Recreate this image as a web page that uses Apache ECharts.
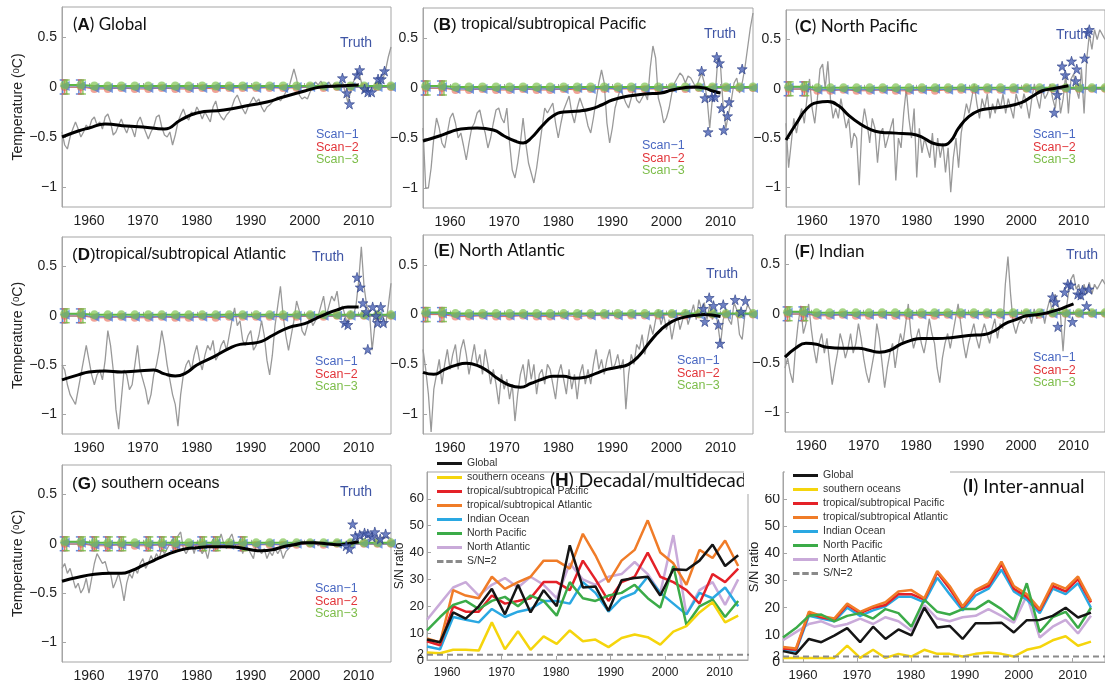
<!DOCTYPE html>
<html>
<head>
<meta charset="utf-8">
<script src="https://cdn.jsdelivr.net/npm/echarts@6/dist/echarts.min.js"></script>
<style>
  html, body { margin: 0; padding: 0; background: #fff; }
  #chart { width: 1105px; height: 684px; }
</style>
</head>
<body>
<div id="chart"></div>
<script>
// ---------- temperature panels (A-G) ----------
// grey series: one value every half year, 1955.0 .. 2016.0
const halfYears = Array.from({ length: 123 }, (_, i) => 1955 + i * 0.5);

const greyA = [-0.45,-0.58,-0.62,-0.5,-0.42,-0.35,-0.42,-0.5,-0.45,-0.38,
  -0.42,-0.33,-0.3,-0.38,-0.35,-0.42,-0.3,-0.27,-0.35,-0.48,
  -0.45,-0.38,-0.32,-0.4,-0.46,-0.38,-0.42,-0.5,-0.35,-0.3,
  -0.38,-0.45,-0.52,-0.45,-0.4,-0.3,-0.28,-0.4,-0.48,-0.5,
  -0.45,-0.58,-0.48,-0.35,-0.28,-0.22,-0.3,-0.33,-0.25,-0.28,
  -0.2,-0.25,-0.32,-0.25,-0.3,-0.35,-0.2,-0.14,-0.25,-0.3,
  -0.33,-0.28,-0.25,-0.2,-0.12,-0.08,-0.15,-0.22,-0.27,-0.2,
  -0.15,-0.1,-0.15,-0.12,-0.2,-0.25,-0.2,-0.18,-0.15,-0.12,
  -0.1,-0.14,-0.1,-0.05,-0.02,0.08,0.18,0.08,-0.08,-0.12,
  -0.1,-0.12,-0.05,0,0.05,0.02,0.06,0,0.02,0.05,
  0,0.04,0.02,0,0.05,-0.05,-0.15,-0.05,0.05,0.1,
  0.15,0.05,-0.05,0,-0.05,0,-0.03,0.05,0.06,0.08,
  0.17,0.3,0.4];
const greyB = [-0.4,-1.0,-1.0,-0.8,-0.5,-0.3,-0.4,-0.55,-0.6,-0.45,
  -0.3,-0.25,-0.35,-0.5,-0.45,-0.58,-0.72,-0.55,-0.4,-0.35,
  -0.25,-0.22,-0.35,-0.45,-0.6,-0.5,-0.35,-0.22,-0.2,-0.3,
  -0.35,-0.2,-0.55,-0.82,-0.9,-0.75,-0.55,-0.3,-0.55,-0.75,
  -0.85,-0.95,-0.8,-0.6,-0.4,-0.2,-0.25,-0.2,-0.15,-0.35,
  -0.5,-0.35,-0.22,-0.15,-0.08,-0.25,-0.35,-0.2,-0.1,-0.18,
  -0.25,-0.38,-0.45,-0.3,-0.12,0.05,0.18,0.05,-0.35,-0.55,
  -0.4,-0.2,-0.1,0,-0.08,-0.15,-0.2,-0.1,0,-0.12,
  -0.15,-0.1,-0.05,-0.12,0.2,0.42,0.3,-0.1,-0.2,-0.35,
  -0.3,-0.2,-0.05,0.05,0.1,0.15,0.12,0.05,0.12,0.1,
  0.05,0,0.08,0.15,0.05,-0.1,-0.4,-0.1,-0.08,0.3,
  0.22,-0.2,-0.4,-0.25,-0.12,0.05,0.1,-0.05,0.05,0.2,
  0.4,0.6,0.75];
const greyC = [-0.35,-0.8,-0.55,-0.3,-0.45,-0.3,-0.2,-0.35,-0.1,0.1,
  -0.2,-0.35,-0.1,0.2,0.25,0,0.28,-0.1,-0.3,-0.2,
  -0.3,-0.1,-0.25,-0.4,-0.3,-0.6,-0.45,-0.5,-0.98,-0.4,
  -0.2,-0.35,-0.55,-0.3,-0.4,-0.75,-0.45,-0.4,-0.6,-0.5,
  -0.4,-0.3,-0.93,-0.5,-0.6,-0.25,0,-0.3,-0.5,-0.2,
  -0.9,-0.4,-0.65,-0.5,-0.6,-0.7,-0.45,-0.8,-0.5,-0.7,
  -0.55,-0.85,-0.6,-1.05,-0.7,-0.5,-0.8,-0.45,-0.3,-0.15,
  -0.25,-0.1,0.05,-0.15,-0.3,-0.1,-0.2,-0.05,-0.3,-0.15,
  -0.25,-0.1,-0.2,-0.05,-0.25,-0.1,-0.2,-0.3,-0.05,-0.15,
  -0.2,-0.05,-0.15,-0.3,-0.1,0.05,-0.1,-0.2,0,-0.1,
  -0.05,0.05,-0.1,-0.2,0.05,-0.25,-0.1,0.15,-0.25,0.1,
  0.15,0,-0.1,0.2,-0.25,0.3,0.55,0.4,0.6,0.5,
  0.6,0.55,0.5];
const greyD = [-0.5,-0.55,-0.7,-0.8,-0.85,-0.9,-0.75,-0.6,-0.45,-0.3,
  -0.45,-0.6,-0.7,-0.6,-0.55,-0.65,-0.45,-0.15,-0.3,-0.55,
  -0.95,-1.15,-0.85,-0.55,-0.6,-0.75,-0.7,-0.5,-0.3,-0.55,
  -0.65,-0.75,-0.9,-0.8,-0.6,-0.5,-0.35,-0.15,-0.3,-0.5,
  -0.65,-0.8,-0.9,-1.12,-0.8,-0.6,-0.5,-0.45,-0.55,-0.4,
  -0.3,-0.45,-0.55,-0.4,-0.3,-0.35,-0.25,-0.45,-0.4,-0.3,
  -0.25,-0.35,-0.2,-0.05,0.08,-0.1,-0.05,-0.25,-0.3,-0.2,
  -0.15,-0.35,-0.3,-0.2,-0.05,-0.2,-0.45,-0.6,-0.4,-0.1,
  0.1,0.3,0,-0.2,-0.35,-0.2,-0.05,0.15,0.05,-0.15,
  -0.2,-0.1,0,-0.1,-0.05,0,0.1,0.2,0,0.1,
  0.2,0.15,0.25,0.05,0.1,0,-0.1,0.05,0,0.1,
  0.35,0.7,0.3,0.1,0.05,-0.35,-0.1,0.05,-0.05,0,
  -0.1,0.1,0.33];
const greyE = [-0.35,-0.55,-0.8,-1.18,-0.75,-0.6,-0.45,-0.7,-0.5,-0.35,
  -0.55,-0.4,-0.3,-0.55,-0.35,-0.25,-0.4,-0.6,-0.45,-0.3,
  -0.5,-0.4,-0.6,-0.35,-0.5,-0.7,-0.55,-0.7,-0.9,-0.6,
  -0.75,-0.65,-0.85,-0.7,-1.07,-0.8,-0.6,-0.5,-0.7,-0.45,
  -0.65,-0.5,-0.8,-0.6,-0.55,-0.7,-0.5,-0.55,-0.7,-0.85,
  -0.6,-0.5,-0.65,-0.8,-0.55,-0.75,-0.6,-0.85,-0.6,-0.5,
  -0.7,-0.55,-0.7,-0.5,-0.35,-0.55,-0.45,-0.6,-0.45,-0.35,
  -0.55,-0.5,-0.4,-0.55,-0.45,-0.95,-0.6,-0.4,-0.5,-0.3,
  -0.35,-0.2,-0.4,-0.25,-0.1,-0.2,-0.05,0.05,-0.1,0,
  -0.15,-0.05,-0.25,-0.1,0,-0.15,-0.05,0.05,-0.1,0,
  0.1,-0.05,0.15,0.05,0.12,-0.05,0.1,-0.05,0.05,-0.1,
  -0.3,-0.05,0.05,-0.05,-0.1,0.12,0.05,-0.2,-0.25,0,
  0.1,0.05,0];
const greyF = [-0.55,-0.45,-0.6,-0.7,-0.35,-0.1,0.08,-0.2,-0.1,0.1,
  -0.15,-0.35,-0.5,-0.3,-0.2,-0.4,-0.25,-0.5,-0.72,-0.55,
  -0.4,-0.2,-0.3,-0.45,-0.35,-0.2,-0.4,-0.3,-0.1,-0.25,
  -0.45,-0.6,-0.7,-0.55,-0.4,-0.1,-0.25,-0.5,-0.75,-0.55,
  -0.4,-0.3,-0.55,-0.35,-0.2,-0.3,-0.1,0.1,-0.2,-0.35,
  -0.25,-0.15,-0.3,-0.4,-0.25,-0.05,-0.2,-0.3,-0.55,-0.7,
  -0.45,-0.3,-0.2,-0.35,-0.2,-0.05,0.1,-0.1,-0.3,-0.45,
  -0.3,-0.2,-0.1,-0.25,-0.35,-0.2,-0.1,-0.2,-0.3,-0.15,
  -0.05,-0.25,-0.1,-0.15,0.3,0.58,0.2,-0.1,-0.2,-0.1,
  -0.05,-0.1,-0.05,0,-0.1,0.05,-0.05,0,0.05,-0.1,
  0.05,0.15,0,0.2,0.1,0,-0.38,0,0.2,0.35,
  0.4,0.25,0.3,0.15,0.3,0.2,0.32,0.2,0.3,0.25,
  0.3,0.35,0.3];
const greyG = [-0.25,-0.2,-0.3,-0.25,-0.35,-0.45,-0.4,-0.5,-0.45,-0.35,
  -0.5,-0.35,-0.2,-0.1,-0.15,-0.2,-0.18,-0.28,-0.3,-0.45,
  -0.38,-0.3,-0.42,-0.58,-0.4,-0.3,-0.35,-0.25,-0.3,-0.2,
  -0.15,-0.25,-0.2,-0.12,-0.18,-0.1,-0.15,-0.05,-0.1,-0.05,
  0,0.05,-0.05,0.08,0.12,-0.05,-0.1,-0.05,0,-0.1,
  0.02,-0.05,-0.1,-0.05,-0.15,-0.02,0.05,-0.05,0.02,0.1,
  0,-0.05,0.05,0.1,0,-0.05,0.05,-0.1,0,-0.05,
  -0.1,-0.15,0,-0.05,-0.1,-0.05,-0.15,-0.08,-0.12,-0.05,
  -0.1,-0.05,-0.15,-0.08,-0.05,-0.02,0,0.02,0,0.03,
  0,0.02,0,0.03,0.02,-0.02,0,0.02,-0.01,0.01,
  0,-0.02,0,0.02,0,-0.01,0.02,-0.03,0,0.03,
  0.05,0.06,0.04,0.03,0.05,0.08,0.04,0.06,0.05,0.07,
  0.06,0.07,0.05];

// smoothed (black) curves
const smoothYearsA = [1955,1958,1960,1963,1967,1970,1974,1977,1980,1985,1990,1993,1996,2000,2003,2006,2010];
const smoothA = [-0.5,-0.44,-0.41,-0.37,-0.39,-0.4,-0.42,-0.33,-0.26,-0.23,-0.18,-0.15,-0.1,-0.04,0,0.01,0.02];
const smoothYearsB = [1955,1958,1960,1962,1965,1968,1970,1972,1973.5,1975,1977,1979,1981,1984,1986,1988,1990,1993,1996,1999,2001,2003,2005,2007,2008.5,2010];
const smoothB = [-0.53,-0.48,-0.44,-0.41,-0.4,-0.42,-0.48,-0.53,-0.55,-0.5,-0.38,-0.28,-0.24,-0.23,-0.21,-0.17,-0.12,-0.08,-0.06,-0.05,-0.02,0,0.01,0,-0.03,-0.05];
const smoothYearsC = [1955,1957,1959,1961,1963,1965,1967,1969,1971,1973,1976,1979,1981,1983,1985,1986.5,1988,1990,1992,1994,1997,2000,2002,2004,2006,2009];
const smoothC = [-0.52,-0.35,-0.2,-0.14,-0.13,-0.17,-0.27,-0.35,-0.41,-0.44,-0.45,-0.46,-0.49,-0.55,-0.57,-0.53,-0.4,-0.28,-0.22,-0.2,-0.18,-0.14,-0.08,-0.02,0,0.03];
const smoothYearsD = [1955,1958,1960,1963,1966,1969,1972,1974,1976,1978,1980,1983,1986,1988,1990,1992,1994,1997,2000,2002,2004,2006,2008,2010];
const smoothD = [-0.65,-0.6,-0.57,-0.56,-0.57,-0.56,-0.55,-0.59,-0.61,-0.58,-0.5,-0.42,-0.33,-0.29,-0.28,-0.26,-0.2,-0.12,-0.08,-0.03,0.02,0.06,0.09,0.09];
const smoothYearsE = [1955,1957,1959,1961,1963,1965,1967,1969,1971,1973,1975,1977,1979,1981,1983,1985,1987,1989,1991,1993,1995,1997,1999,2001,2003,2005,2007,2009,2010];
const smoothE = [-0.58,-0.6,-0.55,-0.51,-0.49,-0.51,-0.57,-0.65,-0.71,-0.73,-0.69,-0.65,-0.62,-0.62,-0.64,-0.63,-0.59,-0.55,-0.53,-0.5,-0.41,-0.27,-0.15,-0.07,-0.03,-0.01,0,-0.01,-0.02];
const smoothYearsF = [1955,1957,1959,1961,1963,1966,1969,1971,1973,1975,1977,1979,1981,1984,1987,1990,1993,1995,1997,1999,2001,2003,2005,2007,2009,2010];
const smoothF = [-0.44,-0.35,-0.3,-0.31,-0.34,-0.35,-0.35,-0.37,-0.39,-0.37,-0.31,-0.27,-0.25,-0.25,-0.24,-0.22,-0.21,-0.17,-0.1,-0.06,-0.02,-0.01,0.01,0.04,0.08,0.1];
const smoothYearsG = [1955,1958,1961,1964,1966,1968,1970,1972,1974,1976,1978,1980,1982,1984,1986,1988,1990,1992,1994,1996,1998,2000,2002,2004,2006,2008,2010];
const smoothG = [-0.38,-0.34,-0.31,-0.3,-0.3,-0.27,-0.22,-0.17,-0.12,-0.08,-0.05,-0.04,-0.03,-0.03,-0.03,-0.04,-0.06,-0.07,-0.06,-0.03,-0.01,0.01,0.01,0,-0.01,0,0.02];

// "Truth" stars
const truthYearsA = [2007,2007.8,2008.3,2009.7,2010.2,2011.1,2011.7,2012.4,2013.6,2014.2,2014.8];
const truthA = [0.09,-0.06,-0.17,0.12,0.17,-0.02,-0.05,-0.05,0.08,0.08,0.16];
const truthYearsB = [2006.5,2007.1,2007.7,2008.4,2009.0,2009.3,2009.8,2010.2,2010.6,2011.3,2011.6,2014.0];
const truthB = [0.17,-0.1,-0.44,-0.09,-0.09,0.31,0.25,-0.2,-0.42,-0.28,-0.14,0.19];
const truthYearsC = [2006.3,2006.9,2007.8,2008.4,2009.6,2010.4,2010.6,2012.1,2012.7,2013.0];
const truthC = [-0.24,-0.06,0.23,0.14,0.28,0.08,0.2,0.31,0.57,0.6];
const truthYearsD = [2007.4,2008,2009.7,2010.3,2010.8,2011.4,2011.7,2012.6,2013.2,2013.5,2014.1,2014.6];
const truthD = [-0.07,-0.09,0.39,0.29,0.13,0.04,-0.34,0.09,0,-0.07,0.09,-0.07];
const truthYearsE = [2006.8,2007.1,2007.9,2008.7,2009.6,2009.9,2010.5,2012.7,2013.8,2014.6];
const truthE = [0.06,-0.07,0.17,0.09,-0.1,-0.29,0.1,0.15,0.03,0.14];
const truthYearsF = [2006,2006.5,2007,2008.3,2008.9,2009.5,2009.8,2010.8,2011.4,2011.7,2012.5,2012.9];
const truthF = [0.17,0.12,-0.13,0.22,0.3,0.29,-0.08,0.2,0.19,0.24,0.08,0.25];
const truthYearsG = [2007.7,2008.3,2008.9,2009.4,2010.2,2011.1,2011.7,2012.5,2013,2014,2015];
const truthG = [-0.02,-0.05,0.2,0.08,0.09,0.11,0.1,0.07,0.12,0.05,0.1];

// scan markers near zero (shared by all temperature panels)
const scanYears = [1955.5,1958.5,1961,1963.5,1966,1968.5,1971,1973.5,1976,1978.5,1981,1983.5,1986,1988.5,1991,1993.5,1996,1998.5,2001,2003.5,2006,2008.5,2011,2013.5,2016];
const scan1 = [0.01,0.01,-0.01,-0.01,-0.01,-0.01,-0.01,-0.01,-0.01,-0.01,-0.01,0,-0.01,0,-0.01,0,-0.01,0,0,0,0,0,0,0,0];
const scan2 = [0,0,-0.02,-0.02,-0.01,-0.02,-0.02,-0.01,-0.02,-0.02,-0.01,-0.02,-0.01,-0.01,-0.01,-0.01,-0.01,-0.01,0,-0.01,0,0,0,0,0];
const scan3 = [0.02,0.02,0.01,0.01,0.01,0.01,0.01,0.01,0.01,0.01,0.01,0.01,0.01,0.01,0.01,0.01,0.01,0.01,0.01,0.01,0.01,0.01,0.01,0.01,0.01];
const errYears = [1955.5, 1958.5];
const errYearsG = [1955.5,1958.5,1961,1963.5,1966,1971,1973.5,1976,1981,1983.5,1988.5];
const errHalf = 0.07;

// ---------- S/N panels (H, I) ----------
const snYears = [1956.3,1958.7,1961.1,1963.4,1965.8,1968.2,1970.6,1973.0,1975.3,1977.7,1980.1,1982.5,1984.9,1987.2,1989.6,1992.0,1994.4,1996.8,1999.1,2001.5,2003.9,2006.3,2008.7,2011.0,2013.4];
const regionNames = ['Global','southern oceans','tropical/subtropical Pacific','tropical/subtropical Atlantic','Indian Ocean','North Pacific','North Atlantic','S/N=2'];
const regionColors = ['#151515','#f5d50c','#e42128','#f07c28','#2aa8e2','#3bab48','#c9aad9','#8a8a8a'];

const decGlobal = [7.6,6.6,17.7,15.4,20,26.5,17,28,17.7,26,20,42.7,27,27.4,18.3,29.7,30.5,31,24,33.8,33.5,37,43,35,39];
const decSouth  = [2.8,2.5,3.8,3.8,3.5,14,4,10.7,3.8,8.8,6,11,7,7.6,4.8,8.2,9.5,8.5,5.7,10.6,12.6,17.7,21.5,14,16.5];
const decTPac   = [7,5.5,20,18,18,24,21,22,23,29,29,26,37,30,22,29,31,40,31,29,26,21,32,29,34];
const decTAtl   = [8,6.5,26,24,23,31,26.5,29,31,37,37,34,47,39,29,37,41,52,40,36,28,41,38,44.5,35];
const decIndian = [5,4,16,15,14,19,16,18,19,22,22,21,29,25,18,23,25,31,25,21,17,25,23,27,20];
const decNPac   = [11,16,20.5,22,19,22,23.5,20,24,22,16.5,29,23,22,24,25,28,23,19.5,35,13,20,22.5,16,22];
const decNAtl   = [15,21,27,29,24,28,30.5,27,31,28,23,36,30,28,31,32,36.5,32,25,46.5,17,26,29,20.5,30];

const intGlobal = [4,3,8.5,7.3,9.7,12.5,7.3,13,8.5,12,9.8,20,12.7,13.3,8.5,14.3,14.3,14.5,10.9,15.4,15.5,17,20,16.4,18.2];
const intSouth  = [1.5,1.5,1.5,1.5,1.5,6,1.5,4.5,1.5,3,2,4.5,3,3,2,3,3.5,3,2,4.5,5.5,8,9.5,6,7.5];
const intTPac   = [5,4.5,18,16.5,15.5,21,18,20,21,25,25,23,33,27,20,26,28,36,27,24,19,28,26,30.5,22];
const intTAtl   = [5.5,5,18.5,17,16,21.5,18.5,20.5,22,26,26.5,23.5,33.5,28,20.5,26.5,29,37,28,25,19.5,29,27,31.5,22.5];
const intIndian = [4.5,4,17,16,15,20,17,19,20.5,24,24,22,31,25,19,24.5,27,34,26,23,18,27,25,29,20];
const intNPac   = [9,12.5,17,17.5,15,17,18,16,19.5,18,13,23,18.5,17.5,19.5,19.5,22.5,19.5,15.5,29,11,16.5,18.5,12.5,20];
const intNAtl   = [8,11,14,15,13,14,16,14,16.5,15,11.5,21,16,15,16.5,17,19.5,17,14.5,24.5,9,13,15.5,10.5,17];
const snRefYears = [1956.3, 2016];
const snRef = [2, 2];

const decadeTicks = [1960, 1970, 1980, 1990, 2000, 2010];
const tempTicks = [-1, -0.5, 0, 0.5];
const snTicks = [0, 2, 10, 20, 30, 40, 50, 60];
const snLabels = [0, 10, 20, 30, 40, 50, 60];
const snRefLabel = [2];

// ---------- layout ----------
const HELV = 'Liberation Sans, Arial, sans-serif';
const CALI = 'Lato, Open Sans, sans-serif';

const tempPanels = [
  { letter: 'A', name: 'Global', font: CALI, rect: [62, 7, 329, 200], grey: greyA, sx: smoothYearsA, sy: smoothA, tx: truthYearsA, ty: truthA, err: errYears, yName: true,
    titleAt: [73, 25], truthAt: [340, 43], scanAt: [316, 135] },
  { letter: 'B', name: 'tropical/subtropical Pacific', font: HELV, rect: [423, 8, 330, 200], grey: greyB, sx: smoothYearsB, sy: smoothB, tx: truthYearsB, ty: truthB, err: errYears,
    titleAt: [433, 25], truthAt: [704, 34], scanAt: [642, 146] },
  { letter: 'C', name: 'North Pacific', font: CALI, rect: [786, 10, 330, 197], grey: greyC, sx: smoothYearsC, sy: smoothC, tx: truthYearsC, ty: truthC, err: errYears,
    titleAt: [795, 27], truthAt: [1056, 35], scanAt: [1033, 135] },
  { letter: 'D', name: 'tropical/subtropical Atlantic', font: HELV, tight: true, rect: [62, 237, 329, 197], grey: greyD, sx: smoothYearsD, sy: smoothD, tx: truthYearsD, ty: truthD, err: errYears, yName: true,
    titleAt: [72, 255], truthAt: [312, 257], scanAt: [315, 362] },
  { letter: 'E', name: 'North Atlantic', font: CALI, rect: [423, 235, 330, 199], grey: greyE, sx: smoothYearsE, sy: smoothE, tx: truthYearsE, ty: truthE, err: errYears,
    titleAt: [434, 251], truthAt: [706, 274], scanAt: [677, 361] },
  { letter: 'F', name: 'Indian', font: CALI, rect: [785, 235, 330, 197], grey: greyF, sx: smoothYearsF, sy: smoothF, tx: truthYearsF, ty: truthF, err: errYears,
    titleAt: [795, 252], truthAt: [1066, 255], scanAt: [1033, 358] },
  { letter: 'G', name: 'southern oceans', font: HELV, rect: [62, 465, 329, 197], grey: greyG, sx: smoothYearsG, sy: smoothG, tx: truthYearsG, ty: truthG, err: errYearsG, yName: true,
    titleAt: [72, 484], truthAt: [340, 492], scanAt: [315, 589] }
];

const STAR = 'path://M50,0 L61,35 L98,35 L68,57 L79,91 L50,70 L21,91 L32,57 L2,35 L39,35 Z';
const DASH_ICON = 'path://M0,0h7v3h-7z M10,0h7v3h-7z M20,0h7v3h-7z';
const pairs = (xs, ys) => xs.map((x, i) => [x, ys[i]]);
const fmtTemp = v => (v < 0 ? '\u2212' + Math.abs(v) : String(v));
const fmtYear = v => String(v);

const grids = [], xAxes = [], yAxes = [], series = [], graphics = [];

tempPanels.forEach((p, k) => {
  grids.push({ left: p.rect[0], top: p.rect[1], width: p.rect[2], height: p.rect[3],
    show: true, borderColor: '#a5a5a5', borderWidth: 1 });
  xAxes.push({
    type: 'value', gridIndex: k, min: 1955, max: 2016,
    axisLine: { show: true, lineStyle: { color: '#a5a5a5' } },
    axisTick: { inside: true, length: 4, customValues: decadeTicks, lineStyle: { color: '#a5a5a5' } },
    axisLabel: { customValues: decadeTicks, formatter: fmtYear, color: '#222', fontSize: 14, fontFamily: HELV, margin: 7 },
    splitLine: { show: false }
  });
  yAxes.push({
    type: 'value', gridIndex: k, min: -1.2, max: 0.8,
    name: p.yName ? 'Temperature (\u1D52C)' : '', nameLocation: 'middle', nameGap: 34,
    nameTextStyle: { color: '#222', fontSize: 14, fontFamily: HELV },
    axisLine: { show: true, lineStyle: { color: '#a5a5a5' } },
    axisTick: { inside: true, length: 4, customValues: tempTicks, lineStyle: { color: '#a5a5a5' } },
    axisLabel: { customValues: tempTicks, formatter: fmtTemp, color: '#222', fontSize: 14, fontFamily: HELV, margin: 5 },
    splitLine: { show: false }
  });

  const ax = { xAxisIndex: k, yAxisIndex: k, animation: false, silent: true };
  series.push(Object.assign({ type: 'line', name: p.letter + ' monthly', data: pairs(halfYears, p.grey),
    symbol: 'none', lineStyle: { color: '#999', width: 1.3 }, z: 2 }, ax));
  series.push(Object.assign({ type: 'line', name: p.letter + ' scan-2', data: pairs(scanYears, scan2),
    symbol: 'circle', symbolSize: 8, lineStyle: { color: '#e06a5a', width: 1 },
    itemStyle: { color: 'rgba(232,100,80,0.6)' }, z: 3 }, ax));
  series.push(Object.assign({ type: 'line', name: p.letter + ' scan-1', data: pairs(scanYears, scan1),
    symbol: 'triangle', symbolRotate: 90, symbolSize: 10, lineStyle: { color: '#5a80d8', width: 1 },
    itemStyle: { color: 'rgba(70,120,215,0.75)' }, z: 3 }, ax));
  series.push(Object.assign({ type: 'line', name: p.letter + ' scan-3', data: pairs(scanYears, scan3),
    symbol: 'circle', symbolSize: 9, lineStyle: { color: '#5cb845', width: 2 },
    itemStyle: { color: 'rgba(125,195,80,0.7)' }, z: 3 }, ax));
  series.push(Object.assign({ type: 'custom', name: p.letter + ' err', data: p.err.map(x => [x, -errHalf, errHalf]),
    renderItem(params, api) {
      const x = api.value(0);
      const lo = api.coord([x, api.value(1)]);
      const hi = api.coord([x, api.value(2)]);
      const cols = ['rgba(70,120,215,0.85)', 'rgba(232,100,80,0.85)', 'rgba(120,190,80,0.85)'];
      const children = [];
      cols.forEach((c, j) => {
        const dx = (j - 1) * 2;
        const st = { stroke: c, lineWidth: 1.5 };
        children.push({ type: 'line', shape: { x1: lo[0] + dx, y1: lo[1], x2: hi[0] + dx, y2: hi[1] }, style: st });
        children.push({ type: 'line', shape: { x1: lo[0] + dx - 3, y1: lo[1], x2: lo[0] + dx + 3, y2: lo[1] }, style: st });
        children.push({ type: 'line', shape: { x1: hi[0] + dx - 3, y1: hi[1], x2: hi[0] + dx + 3, y2: hi[1] }, style: st });
      });
      return { type: 'group', children };
    }, z: 3 }, ax));
  series.push(Object.assign({ type: 'line', name: p.letter + ' smooth', data: pairs(p.sx, p.sy),
    smooth: 0.5, symbol: 'none', lineStyle: { color: '#000', width: 3 }, z: 4 }, ax));
  series.push(Object.assign({ type: 'scatter', name: p.letter + ' truth', data: pairs(p.tx, p.ty),
    symbol: STAR, symbolSize: 10, itemStyle: { color: '#4a62b4', borderColor: '#2c3f86', borderWidth: 0.8 }, z: 5 }, ax));

  // panel texts
  graphics.push({ type: 'text', x: p.titleAt[0], y: p.titleAt[1], z: 10,
    style: { text: '({b|' + p.letter + '})' + (p.tight ? '' : ' ') + '{n|' + p.name + '}',
      verticalAlign: 'middle', fill: '#111', fontSize: 17, fontFamily: p.font,
      rich: { b: { fontWeight: 'bold', fontSize: 17, fontFamily: HELV, fill: '#111' },
              n: { fontSize: p.font === HELV ? 16 : 17, fontFamily: p.font, fill: '#111' } } } });
  graphics.push({ type: 'text', x: p.truthAt[0], y: p.truthAt[1], z: 10,
    style: { text: 'Truth', verticalAlign: 'middle', fill: '#3f55a5', fontSize: 14, fontFamily: HELV } });
  ['Scan\u22121', 'Scan\u22122', 'Scan\u22123'].forEach((t, j) => {
    graphics.push({ type: 'text', x: p.scanAt[0], y: p.scanAt[1] + j * 12.5, z: 10,
      style: { text: t, verticalAlign: 'middle', fill: ['#4a68c2', '#e2363b', '#7dbd4a'][j], fontSize: 12.5, fontFamily: HELV } });
  });
});

// ---------- S/N panels ----------
const snPanels = [
  { letter: 'H', name: 'Decadal/multidecadal', rect: [427, 472, 321, 188], max: 2015.2,
    vals: [decGlobal, decSouth, decTPac, decTAtl, decIndian, decNPac, decNAtl],
    titleAt: [550, 481], legendAt: [432, 456], fs: 12, nameGap: 17 },
  { letter: 'I', name: 'Inter-annual', rect: [783, 472, 336, 190], max: 2016,
    vals: [intGlobal, intSouth, intTPac, intTAtl, intIndian, intNPac, intNAtl],
    titleAt: [963, 487], legendAt: [788, 468], fs: 13, nameGap: 20, maskTop: true }
];
const drawOrder = [6, 4, 2, 3, 5, 1, 0];
const legends = [];
const extraY = [];
const legendData = regionNames.map((n, i) => ({ name: n, icon: i === 7 ? DASH_ICON : 'rect' }));

snPanels.forEach((p, j) => {
  const k = tempPanels.length + j;
  grids.push({ left: p.rect[0], top: p.rect[1], width: p.rect[2], height: p.rect[3],
    show: true, borderColor: '#a5a5a5', borderWidth: 1 });
  xAxes.push({
    type: 'value', gridIndex: k, min: 1956.3, max: p.max,
    axisLine: { show: true, lineStyle: { color: '#a5a5a5' } },
    axisTick: { inside: true, length: 4, customValues: decadeTicks, lineStyle: { color: '#a5a5a5' } },
    axisLabel: { customValues: decadeTicks, formatter: fmtYear, color: '#222', fontSize: p.fs, fontFamily: HELV, margin: 7 },
    splitLine: { show: false }
  });
  yAxes.push({
    type: 'value', gridIndex: k, min: 0, max: 70,
    name: 'S/N ratio', nameLocation: 'middle', nameGap: p.nameGap,
    nameTextStyle: { color: '#222', fontSize: p.fs, fontFamily: HELV },
    axisLine: { show: true, lineStyle: { color: '#a5a5a5' } },
    axisTick: { inside: true, length: 4, customValues: snTicks, lineStyle: { color: '#a5a5a5' } },
    axisLabel: { customValues: snLabels, color: '#222', fontSize: p.fs + 1, fontFamily: HELV, margin: 3 },
    splitLine: { show: false }
  });
  // second axis on the same side only carries the "2" label of the S/N=2 line
  extraY.push({
    type: 'value', gridIndex: k, min: 0, max: 70, position: 'left',
    axisLine: { show: false }, axisTick: { show: false }, splitLine: { show: false },
    axisLabel: { customValues: snRefLabel, color: '#222', fontSize: p.fs, fontFamily: HELV, margin: 3 }
  });
  const ax = { xAxisIndex: k, yAxisIndex: k, animation: false, silent: true };
  drawOrder.forEach(r => {
    series.push(Object.assign({ type: 'line', name: regionNames[r], data: pairs(snYears, p.vals[r]),
      symbol: 'none', lineStyle: { color: regionColors[r], width: 2.5 }, itemStyle: { color: regionColors[r] }, z: 3 }, ax));
  });
  series.push(Object.assign({ type: 'line', name: regionNames[7], data: pairs(snRefYears, snRef),
    symbol: 'none', lineStyle: { color: regionColors[7], width: 2, type: [6, 4] }, itemStyle: { color: regionColors[7] }, z: 3 }, ax));

  legends.push({
    orient: 'vertical', left: p.legendAt[0], top: p.legendAt[1], data: legendData,
    padding: [2, 5, 2, 5], itemGap: 3, itemWidth: 25, itemHeight: 3,
    selectedMode: false, z: 6,
    textStyle: { fontSize: 10.5, lineHeight: 11, fontFamily: HELV, color: '#333' }
  });
  if (p.maskTop) {
    // legend box hides the top edge of the frame
    graphics.push({ type: 'rect', z: 1, shape: { x: p.rect[0] + 2, y: p.rect[1] - 3, width: 165, height: 6 }, style: { fill: '#fff' } });
  }
  graphics.push({ type: 'text', x: p.titleAt[0], y: p.titleAt[1], z: 10,
    style: { text: '({b|' + p.letter + '}) ' + p.name, verticalAlign: 'middle', fill: '#111', fontSize: 19, fontFamily: CALI,
      rich: { b: { fontWeight: 'bold', fontSize: 19, fontFamily: HELV, fill: '#111' } } } });
});

// the H title is cut off where panel I begins
graphics.push({ type: 'rect', z: 20, shape: { x: 744, y: 466, width: 36, height: 28 }, style: { fill: '#fff' } });

const chart = echarts.init(document.getElementById('chart'), null, { renderer: 'canvas' });
chart.setOption({
  animation: false,
  backgroundColor: '#fff',
  grid: grids,
  xAxis: xAxes,
  yAxis: yAxes.concat(extraY),
  legend: legends,
  series: series,
  graphic: graphics
});
</script>
</body>
</html>
